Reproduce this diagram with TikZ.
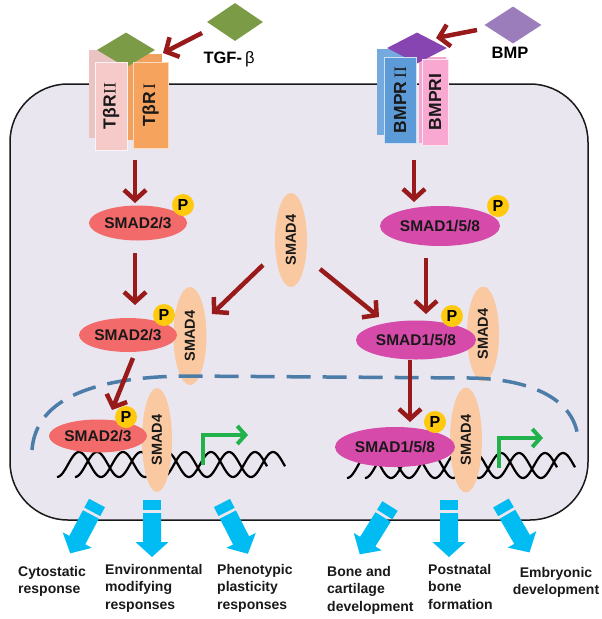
\documentclass[tikz,border=0pt]{standalone}
\usepackage{fontspec}
\setmainfont{Liberation Sans}
\newfontfamily\numfont{Liberation Serif}
\usetikzlibrary{shapes.geometric,arrows.meta}
\definecolor{cellfill}{HTML}{E9E6EF}
\definecolor{darkred}{HTML}{981A1A}
\definecolor{smadredc}{HTML}{F36A6A}
\definecolor{smadmagc}{HTML}{D64AAA}
\definecolor{peachc}{HTML}{FAC9A1}
\definecolor{pyellow}{HTML}{FFC90E}
\definecolor{tgfgreen}{HTML}{7B9B46}
\definecolor{bmplight}{HTML}{9A7DBA}
\definecolor{bmpdark}{HTML}{8745B2}
\definecolor{pinkA}{HTML}{F7CACA}
\definecolor{orangeA}{HTML}{F6A35E}
\definecolor{blueA}{HTML}{5D9BD8}
\definecolor{pinkB}{HTML}{F9A8D2}
\definecolor{nucblue}{HTML}{4C7CA8}
\definecolor{dnagreen}{HTML}{22B24C}
\definecolor{cyanA}{HTML}{00BCF2}
\newcommand\smadfont{\fontsize{15.5pt}{17pt}\selectfont\bfseries}
\newcommand\recfont{\fontsize{17.5pt}{19pt}\selectfont\bfseries}
\tikzset{blockarrow/.pic={
  \fill[cyanA] (-9,0) rectangle (9,10);
  \fill[cyanA] (-9,13) -- (9,13) -- (9,42) -- (16.5,42) -- (0,57) -- (-16.5,42) -- (-9,42) -- cycle;
}}
\begin{document}
\begin{tikzpicture}[x=1pt,y=-1pt,
  redarrow/.style={draw=darkred, line width=4.5pt, -{Straight Barb[length=10pt,width=22pt]}},
  greenarrow/.style={draw=dnagreen, line width=4pt, -{Straight Barb[length=8pt,width=18pt]}},
  smadA/.style={ellipse, fill=smadredc, inner sep=0pt, minimum width=98pt, minimum height=34pt, font=\smadfont, text=black!90},
  smadB/.style={ellipse, fill=smadmagc, inner sep=0pt, minimum width=120pt, minimum height=40pt, font=\smadfont, text=black!90},
  smadfour/.style={ellipse, fill=peachc, inner sep=0pt, rotate=90, minimum height=32pt, font=\fontsize{14.5pt}{16pt}\selectfont\bfseries, text=black!90},
  pdot/.style={circle, fill=pyellow, inner sep=0pt, minimum size=22pt, font=\fontsize{16pt}{17pt}\selectfont\bfseries},
  recbox/.style={rectangle, inner sep=0pt, rotate=90, font=\recfont, text=black!90},
  lig/.style={diamond, inner sep=0pt},
  dna/.style={draw=black, line width=2.2pt},
  resp/.style={anchor=north west, align=left, inner sep=0pt, font=\fontsize{14pt}{17.5pt}\selectfont\bfseries, text=black!90}
]
\useasboundingbox (0,0) rectangle (602,619);
\fill[white] (0,0) rectangle (602,619);

% cell
\draw[fill=cellfill, draw=black!90, line width=1.5pt, rounded corners=58pt] (10,84) rectangle (588,520);

% DNA
\draw[dna] plot[domain=57:267, samples=150] (\x, {464.5+12.5*cos(8.1818*(\x-57))});
\draw[dna] plot[domain=75:285, samples=150] (\x, {464.5+12.5*cos(8.1818*(\x-75))});
\draw[dna] plot[domain=347:557, samples=150] (\x, {465.5+12.5*cos(8.1818*(\x-347))});
\draw[dna] plot[domain=365:575, samples=150] (\x, {465.5+12.5*cos(8.1818*(\x-365))});

% transcription arrows
\coordinate (g1s) at (203,465);
\coordinate (g1e) at (248,435);
\coordinate (g2s) at (499,468);
\coordinate (g2e) at (543,438);
\draw[greenarrow] (g1s) |- (g1e);
\draw[greenarrow] (g2s) |- (g2e);

% SMAD4 proteins
\node[smadfour, minimum width=94pt] (smad4free) at (291,240) {SMAD4};
\node[smadfour, minimum width=98pt, minimum height=33pt] (smad4b) at (190,336) {SMAD4};
\node[smadfour, minimum width=104pt, minimum height=30pt] (smad4c) at (157,440) {SMAD4};
\node[smadfour, minimum width=95pt] (smad4r) at (483,334) {SMAD4};
\node[smadfour, minimum width=105pt] (smad4rc) at (466,440) {SMAD4};

% R-SMADs
\node[smadA, minimum height=35pt] (smad23a) at (138,223) {SMAD2/3};
\node[smadA] (smad23b) at (128,335) {SMAD2/3};
\node[smadA, minimum height=33pt] (smad23c) at (98,436) {SMAD2/3};
\node[smadB] (smad158a) at (440,226) {SMAD1/5/8};
\node[smadB, minimum height=39pt] (smad158b) at (416,340) {SMAD1/5/8};
\node[smadB] (smad158c) at (395,447) {SMAD1/5/8};

% phosphates
\node[pdot] (pa) at (183,205) {P};
\node[pdot] (pb) at (164,315) {P};
\node[pdot] (pc) at (126,417) {P};
\node[pdot] (qa) at (498,206) {P};
\node[pdot] (qb) at (452,316) {P};
\node[pdot] (qc) at (435,422) {P};

% nucleus
\draw[draw=nucblue, line width=3.5pt, dash pattern=on 24pt off 12pt] (32,450) .. controls (36,396) and (100,377) .. (185,376) -- (470,378) .. controls (540,379) and (578,405) .. (578,442);

% receptors (back layer)
\node[recbox, fill=pinkA!90!gray, minimum width=88pt, minimum height=32pt] (tbr2back) at (105,94) {};
\node[recbox, fill=orangeA!95!gray, minimum width=86pt, minimum height=35pt] (tbr1back) at (144.5,97) {};
\node[recbox, fill=blueA!85!white, minimum width=86pt, minimum height=32pt] (bmpr2back) at (393,92) {};
\node[recbox, fill=pinkB!95!gray, minimum width=86pt, minimum height=27pt] (bmpr1back) at (432.5,100) {};
% bound ligands
\node[lig, fill=tgfgreen, minimum width=58pt, minimum height=35pt] (tgfbound) at (126,50) {};
\node[lig, fill=bmpdark, minimum width=60pt, minimum height=31pt] (bmpbound) at (417,48) {};
% receptors (front layer)
\node[recbox, fill=pinkA, draw=white!80!pinkA, line width=0.8pt, minimum width=88pt, minimum height=32pt] (tbr2) at (111,106) {Tβ\hspace{0.5pt}R\hspace{1pt}{\mdseries\numfont II}};
\node[recbox, fill=orangeA, draw=white!60!orangeA, line width=0.8pt, minimum width=86pt, minimum height=35pt] (tbr1) at (150.5,105) {Tβ\hspace{0.5pt}R\hspace{2pt}{\mdseries\numfont I}};
\node[recbox, fill=blueA, draw=white!70!blueA, line width=0.8pt, minimum width=86pt, minimum height=32pt] (bmpr2) at (400,100) {BMPR\,{\mdseries\numfont II}};
\node[recbox, fill=pinkB, draw=white!70!pinkB, line width=0.8pt, minimum width=86pt, minimum height=26pt] (bmpr1) at (435,102) {BMPRI};

% free ligands
\node[lig, fill=tgfgreen, minimum width=56pt, minimum height=38pt] (tgf) at (235,22) {};
\node[lig, fill=bmplight, minimum width=57pt, minimum height=37pt] (bmp) at (513,25) {};
\node[inner sep=0pt, font=\fontsize{16.5pt}{18pt}\selectfont\bfseries] (tgflabel) at (229,59) {TGF-\hspace{3pt}{\mdseries β}};
\node[inner sep=0pt, font=\fontsize{16.5pt}{18pt}\selectfont\bfseries] (bmplabel) at (510,53) {BMP};

% signalling arrows
\draw[redarrow] ([xshift=-33pt,yshift=-11pt]tgf.center) -- ([xshift=37pt,yshift=-3pt]tgfbound.center);
\draw[redarrow] ([xshift=-36pt,yshift=-5pt]bmp.center) -- ([xshift=19pt,yshift=10pt]bmpbound.center);
\draw[redarrow] ([xshift=-15.5pt,yshift=-55pt]tbr1.center) -- ([xshift=-3pt,yshift=20pt]smad23a.center);
\draw[redarrow] ([xshift=-3pt,yshift=-30pt]smad23a.center) -- ([xshift=7pt,yshift=30pt]smad23b.center);
\draw[redarrow] ([xshift=-28pt,yshift=-25pt]smad4free.center) -- ([xshift=22pt,yshift=22pt]smad4b.center);
\draw[redarrow] ([xshift=29pt,yshift=-29pt]smad4free.center) -- ([xshift=-37pt,yshift=23pt]smad158b.center);
\draw[redarrow] ([xshift=5pt,yshift=-23pt]smad23b.center) -- ([xshift=14pt,yshift=26pt]smad23c.center);
\draw[redarrow] ([xshift=14pt,yshift=-60pt]bmpr2.center) -- ([xshift=-26pt,yshift=24pt]smad158a.center);
\draw[redarrow] ([xshift=-14pt,yshift=-32pt]smad158a.center) -- ([xshift=10pt,yshift=26pt]smad158b.center);
\draw[redarrow] ([xshift=-6pt,yshift=-20pt]smad158b.center) -- ([xshift=15pt,yshift=25pt]smad158c.center);

% outcome arrows
\pic[rotate=-28] at (97,503) {blockarrow};
\pic at (152,500) {blockarrow};
\pic[rotate=27] at (222,503) {blockarrow};
\pic[rotate=-32] at (390,506) {blockarrow};
\pic at (449,500) {blockarrow};
\pic[rotate=30] at (501,503) {blockarrow};

% outcomes
\node[resp] (r1) at (18,566) {Cytostatic\\response};
\node[resp] (r2) at (105,564) {Environmental\\modifying\\responses};
\node[resp] (r3) at (217,564) {Phenotypic\\plasticity\\responses};
\node[resp] (r4) at (327,566) {Bone and\\cartilage\\development};
\node[resp] (r5) at (428,564) {Postnatal\\bone\\formation};
\node[resp, anchor=north, align=center] (r6) at (556,567) {Embryonic\\development};
\end{tikzpicture}
\end{document}
